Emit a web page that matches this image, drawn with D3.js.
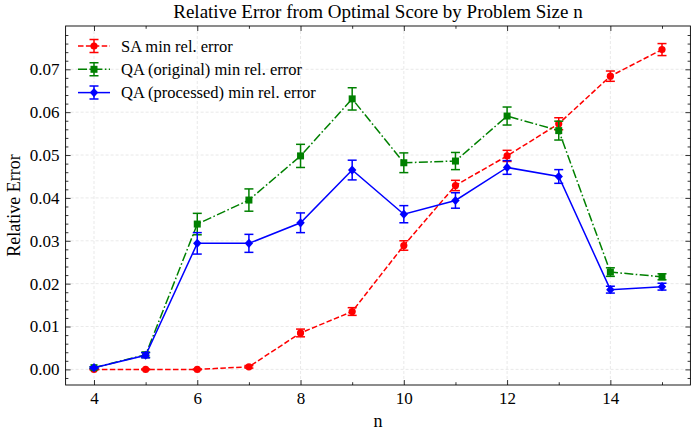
<!DOCTYPE html>
<html lang="en">
<head>
    <meta charset="UTF-8">
    <title>Relative Error</title>
    <script type="text/javascript" src="https://cdn.jsdelivr.net/npm/d3@7"></script>
    <style type="text/css">
        body { margin: 0; background: #fff; }
        text { font-family: "Liberation Serif", serif; fill: #000; }
    </style>
</head>
<body>
    <script type="text/javascript">

        //Data
        var sizes = [4, 5, 6, 7, 8, 9, 10, 11, 12, 13, 14, 15];
        var saMin = [0.0000, 0.0000, 0.0000, 0.0006, 0.0085, 0.0135, 0.0289, 0.0429, 0.0498, 0.0573, 0.0684, 0.0746];
        var saErr = [0.0001, 0.0001, 0.0001, 0.0003, 0.0009, 0.0009, 0.0011, 0.0012, 0.0013, 0.0014, 0.0012, 0.0014];
        var qaOrigMin = [0.0004, 0.0034, 0.0339, 0.0395, 0.0498, 0.0631, 0.0482, 0.0486, 0.0591, 0.0557, 0.0227, 0.0216];
        var qaOrigErr = [0.0002, 0.0006, 0.0025, 0.0026, 0.0027, 0.0026, 0.0023, 0.0020, 0.0021, 0.0022, 0.0010, 0.0007];
        var qaProcMin = [0.0004, 0.0033, 0.0294, 0.0294, 0.0342, 0.0465, 0.0362, 0.0394, 0.0471, 0.0450, 0.0186, 0.0193];
        var qaProcErr = [0.0002, 0.0006, 0.0025, 0.0021, 0.0023, 0.0023, 0.0020, 0.0018, 0.0016, 0.0016, 0.0008, 0.0008];

        var xTicks = [4, 6, 8, 10, 12, 14];
        var yTicks = [0, 0.01, 0.02, 0.03, 0.04, 0.05, 0.06, 0.07];

        var series = [
            {name: "SA min rel. error", vals: saMin, errs: saErr, color: "#ff0000", dash: "5.5,2.4", marker: "circle"},
            {name: "QA (original) min rel. error", vals: qaOrigMin, errs: qaOrigErr, color: "#008000", dash: "9,2.4,1.6,2.4", marker: "square"},
            {name: "QA (processed) min rel. error", vals: qaProcMin, errs: qaProcErr, color: "#0000ff", dash: null, marker: "diamond"}
        ];

        //Width and height
        var w = 697;
        var h = 436;
        var pl = 65.6, pr = 690.4, pt = 26, pb = 385;

        var svg = d3.select("body")
            .append("svg")
            .attr("width", w)
            .attr("height", h);

        var x = d3.scaleLinear().domain([3.45, 15.55]).range([pl, pr]);
        var y = d3.scaleLinear().domain([-0.00364, 0.0801]).range([pb, pt]);

        // grid
        var grid = svg.append("g");
        grid.selectAll("line.gx")
            .data(xTicks)
            .enter()
            .append("line")
            .attr("x1", function(d) { return x(d); })
            .attr("x2", function(d) { return x(d); })
            .attr("y1", pt).attr("y2", pb)
            .attr("stroke", "#e3e3e3").attr("stroke-width", 0.8)
            .attr("stroke-dasharray", "3,2");
        grid.selectAll("line.gy")
            .data(yTicks)
            .enter()
            .append("line")
            .attr("y1", function(d) { return y(d); })
            .attr("y2", function(d) { return y(d); })
            .attr("x1", pl).attr("x2", pr)
            .attr("stroke", "#e3e3e3").attr("stroke-width", 0.8)
            .attr("stroke-dasharray", "3,2");

        // axes with inward ticks
        var xMinor = [5, 7, 9, 11, 13, 15];
        var yMinor = d3.range(-2, 81, 2).map(function(d) { return d / 1000; })
            .filter(function(d) { return d >= -0.00364 && d <= 0.0801 && Math.round(d * 1000) % 10 != 0; });

        function styleAxis(g) {
            g.select(".domain").remove();
            g.selectAll(".tick line").attr("stroke", "#000").attr("stroke-width", 0.8);
            g.selectAll("text").attr("font-size", "17px").attr("fill", "#000")
                .style("font-family", "'Liberation Serif', serif");
        }

        svg.append("g")
            .attr("transform", "translate(0," + pb + ")")
            .call(d3.axisBottom(x).tickValues(xTicks).tickSize(-5).tickPadding(7).tickFormat(d3.format("d")))
            .call(styleAxis);
        svg.append("g")
            .attr("transform", "translate(0," + pb + ")")
            .call(d3.axisBottom(x).tickValues(xMinor).tickSize(-2.8).tickFormat(""))
            .call(styleAxis);
        svg.append("g")
            .attr("transform", "translate(0," + pt + ")")
            .call(d3.axisTop(x).tickValues(xTicks).tickSize(-5).tickFormat(""))
            .call(styleAxis);
        svg.append("g")
            .attr("transform", "translate(0," + pt + ")")
            .call(d3.axisTop(x).tickValues(xMinor).tickSize(-2.8).tickFormat(""))
            .call(styleAxis);

        svg.append("g")
            .attr("transform", "translate(" + pl + ",0)")
            .call(d3.axisLeft(y).tickValues(yTicks).tickSize(-5).tickPadding(6).tickFormat(d3.format(".2f")))
            .call(styleAxis);
        svg.append("g")
            .attr("transform", "translate(" + pl + ",0)")
            .call(d3.axisLeft(y).tickValues(yMinor).tickSize(-2.8).tickFormat(""))
            .call(styleAxis);
        svg.append("g")
            .attr("transform", "translate(" + pr + ",0)")
            .call(d3.axisRight(y).tickValues(yTicks).tickSize(-5).tickFormat(""))
            .call(styleAxis);
        svg.append("g")
            .attr("transform", "translate(" + pr + ",0)")
            .call(d3.axisRight(y).tickValues(yMinor).tickSize(-2.8).tickFormat(""))
            .call(styleAxis);

        // markers
        function marker(g, type, color) {
            if (type == "circle") {
                g.append("circle").attr("r", 3.6).attr("fill", color);
            } else if (type == "square") {
                g.append("rect").attr("x", -3.5).attr("y", -3.5).attr("width", 7).attr("height", 7).attr("fill", color);
            } else {
                g.append("path").attr("d", "M0,-4.6L4.2,0L0,4.6L-4.2,0Z").attr("fill", color);
            }
        }

        var line = d3.line()
            .x(function(d, i) { return x(sizes[i]); })
            .y(function(d) { return y(d); });

        var cap = 4.5;

        series.forEach(function(s) {
            var g = svg.append("g");

            // error bars
            var eb = g.selectAll("g.err")
                .data(s.vals)
                .enter()
                .append("g")
                .attr("stroke", s.color)
                .attr("stroke-width", 1.5);
            eb.append("line")
                .attr("x1", function(d, i) { return x(sizes[i]); })
                .attr("x2", function(d, i) { return x(sizes[i]); })
                .attr("y1", function(d, i) { return y(d - s.errs[i]); })
                .attr("y2", function(d, i) { return y(d + s.errs[i]); });
            eb.append("line")
                .attr("x1", function(d, i) { return x(sizes[i]) - cap; })
                .attr("x2", function(d, i) { return x(sizes[i]) + cap; })
                .attr("y1", function(d, i) { return y(d - s.errs[i]); })
                .attr("y2", function(d, i) { return y(d - s.errs[i]); });
            eb.append("line")
                .attr("x1", function(d, i) { return x(sizes[i]) - cap; })
                .attr("x2", function(d, i) { return x(sizes[i]) + cap; })
                .attr("y1", function(d, i) { return y(d + s.errs[i]); })
                .attr("y2", function(d, i) { return y(d + s.errs[i]); });

            g.append("path")
                .datum(s.vals)
                .attr("d", line)
                .attr("fill", "none")
                .attr("stroke", s.color)
                .attr("stroke-width", 1.5)
                .attr("stroke-dasharray", s.dash);

            g.selectAll("g.mk")
                .data(s.vals)
                .enter()
                .append("g")
                .attr("transform", function(d, i) { return "translate(" + x(sizes[i]) + "," + y(d) + ")"; })
                .each(function() { marker(d3.select(this), s.marker, s.color); });
        });

        // frame
        svg.append("rect")
            .attr("x", pl).attr("y", pt)
            .attr("width", pr - pl).attr("height", pb - pt)
            .attr("fill", "none").attr("stroke", "#000").attr("stroke-width", 0.9);

        // legend
        var legend = svg.selectAll("g.legend")
            .data(series)
            .enter()
            .append("g")
            .attr("transform", function(d, i) { return "translate(0," + (46 + i * 23.3) + ")"; });
        legend.append("line")
            .attr("x1", 78).attr("x2", 110).attr("y1", 0).attr("y2", 0)
            .attr("stroke", function(d) { return d.color; })
            .attr("stroke-width", 1.5)
            .attr("stroke-dasharray", function(d) { return d.dash; });
        legend.append("path")
            .attr("d", "M94,-6.5V6.5M" + (94 - cap) + ",-6.5H" + (94 + cap) + "M" + (94 - cap) + ",6.5H" + (94 + cap))
            .attr("stroke", function(d) { return d.color; })
            .attr("stroke-width", 1.5)
            .attr("fill", "none");
        legend.append("g")
            .attr("transform", "translate(94,0)")
            .each(function(d) { marker(d3.select(this), d.marker, d.color); });
        legend.append("text")
            .attr("x", 121)
            .attr("y", 0)
            .attr("dy", "0.35em")
            .attr("font-size", "16.5px")
            .text(function(d) { return d.name; });

        // titles
        svg.append("text")
            .attr("x", (pl + pr) / 2)
            .attr("y", 18)
            .attr("text-anchor", "middle")
            .attr("font-size", "19px")
            .text("Relative Error from Optimal Score by Problem Size n");

        svg.append("text")
            .attr("x", (pl + pr) / 2)
            .attr("y", 427)
            .attr("text-anchor", "middle")
            .attr("font-size", "18px")
            .text("n");

        svg.append("text")
            .attr("transform", "translate(20," + ((pt + pb) / 2) + ") rotate(-90)")
            .attr("text-anchor", "middle")
            .attr("font-size", "18px")
            .text("Relative Error");

        </script>
</body>
</html>
